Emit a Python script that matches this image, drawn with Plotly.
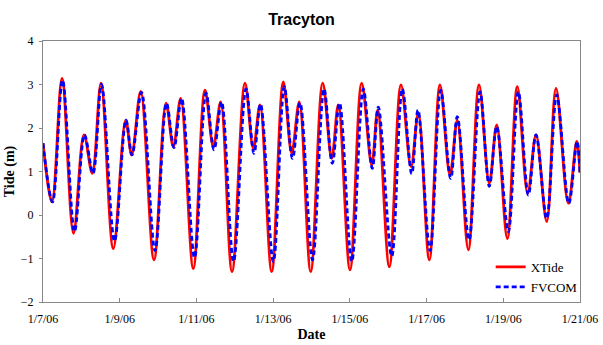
import plotly.graph_objects as go

# XTide extrema (time, water level in m)
xtide_time = [
    "2006-01-07 00:00", "2006-01-07 05:38", "2006-01-07 11:53", "2006-01-07 19:05",
    "2006-01-08 01:39", "2006-01-08 06:51", "2006-01-08 12:17", "2006-01-08 19:59",
    "2006-01-09 03:45", "2006-01-09 07:30", "2006-01-09 13:08", "2006-01-09 21:27",
    "2006-01-10 04:58", "2006-01-10 09:32", "2006-01-10 14:10", "2006-01-10 22:02",
    "2006-01-11 05:22", "2006-01-11 10:34", "2006-01-11 15:11", "2006-01-11 22:16",
    "2006-01-12 06:23", "2006-01-12 11:35", "2006-01-12 15:47", "2006-01-12 23:06",
    "2006-01-13 06:22", "2006-01-13 11:37", "2006-01-13 16:22", "2006-01-13 23:30",
    "2006-01-14 07:01", "2006-01-14 12:38", "2006-01-14 16:46", "2006-01-15 00:05",
    "2006-01-15 07:25", "2006-01-15 13:40", "2006-01-15 17:25", "2006-01-16 00:41",
    "2006-01-16 08:00", "2006-01-16 14:16", "2006-01-16 18:50", "2006-01-17 01:43",
    "2006-01-17 08:24", "2006-01-17 14:40", "2006-01-17 19:14", "2006-01-18 02:07",
    "2006-01-18 08:49", "2006-01-18 15:15", "2006-01-18 19:53", "2006-01-19 02:31",
    "2006-01-19 08:46", "2006-01-19 15:17", "2006-01-19 20:28", "2006-01-20 03:10",
    "2006-01-20 08:59", "2006-01-20 16:41", "2006-01-20 21:56", "2006-01-21 00:00",
]
xtide_level = [
    1.65, 0.30, 3.14, -0.42,
    1.84, 0.96, 3.03, -0.77,
    2.18, 1.38, 2.84, -1.03,
    2.57, 1.57, 2.68, -1.23,
    2.87, 1.57, 2.60, -1.30,
    3.03, 1.53, 2.53, -1.30,
    3.06, 1.42, 2.60, -1.30,
    3.03, 1.30, 2.53, -1.26,
    3.03, 1.15, 2.41, -1.19,
    2.99, 1.11, 2.34, -1.03,
    2.99, 0.92, 2.18, -0.80,
    2.99, 0.73, 2.07, -0.54,
    2.95, 0.50, 1.84, -0.15,
    2.91, 0.27, 1.69, 0.97,
]

# FVCOM extrema (time, water level in m)
fvcom_time = [
    "2006-01-07 00:00", "2006-01-07 05:56", "2006-01-07 12:12", "2006-01-07 19:43",
    "2006-01-08 01:58", "2006-01-08 07:17", "2006-01-08 12:36", "2006-01-08 20:44",
    "2006-01-09 03:56", "2006-01-09 07:41", "2006-01-09 13:38", "2006-01-09 22:05",
    "2006-01-10 05:16", "2006-01-10 09:58", "2006-01-10 14:40", "2006-01-10 22:47",
    "2006-01-11 05:59", "2006-01-11 11:00", "2006-01-11 15:41", "2006-01-11 23:12",
    "2006-01-12 07:01", "2006-01-12 12:01", "2006-01-12 16:05", "2006-01-13 00:06",
    "2006-01-13 06:59", "2006-01-13 12:07", "2006-01-13 16:48", "2006-01-14 00:38",
    "2006-01-14 07:49", "2006-01-14 13:01", "2006-01-14 17:31", "2006-01-15 01:09",
    "2006-01-15 08:25", "2006-01-15 14:02", "2006-01-15 17:48", "2006-01-16 02:11",
    "2006-01-16 08:49", "2006-01-16 14:42", "2006-01-16 18:38", "2006-01-17 02:09",
    "2006-01-17 08:50", "2006-01-17 15:06", "2006-01-17 19:14", "2006-01-18 02:33",
    "2006-01-18 09:26", "2006-01-18 15:15", "2006-01-18 19:53", "2006-01-19 03:08",
    "2006-01-19 09:24", "2006-01-19 15:40", "2006-01-19 20:28", "2006-01-20 03:10",
    "2006-01-20 09:25", "2006-01-20 17:00", "2006-01-20 22:08", "2006-01-21 00:00",
]
fvcom_level = [
    1.65, 0.30, 3.10, -0.38,
    1.84, 0.96, 3.00, -0.60,
    2.18, 1.38, 2.82, -0.82,
    2.57, 1.55, 2.68, -0.98,
    2.80, 1.50, 2.60, -1.07,
    2.90, 1.42, 2.55, -1.07,
    2.95, 1.30, 2.58, -1.03,
    2.90, 1.19, 2.57, -1.07,
    2.90, 1.07, 2.48, -0.95,
    2.90, 0.95, 2.41, -0.82,
    2.87, 0.84, 2.26, -0.57,
    2.83, 0.66, 2.03, -0.38,
    2.83, 0.46, 1.84, -0.08,
    2.76, 0.27, 1.69, 0.97,
]

x_ticks = ["2006-01-07", "2006-01-09", "2006-01-11", "2006-01-13",
           "2006-01-15", "2006-01-17", "2006-01-19", "2006-01-21"]
x_tick_labels = ["1/7/06", "1/9/06", "1/11/06", "1/13/06",
                 "1/15/06", "1/17/06", "1/19/06", "1/21/06"]
y_ticks = [-2, -1, 0, 1, 2, 3, 4]

serif = "Liberation Serif, Times New Roman, serif"

fig = go.Figure()
fig.add_trace(go.Scatter(
    x=xtide_time, y=xtide_level, name="XTide", mode="lines",
    line=dict(color="#ff0000", width=2.8, shape="spline", smoothing=1.0),
))
fig.add_trace(go.Scatter(
    x=fvcom_time, y=fvcom_level, name="FVCOM", mode="lines",
    line=dict(color="#0000ff", width=2.8, dash="5px,3px", shape="spline", smoothing=1.0),
))

fig.update_layout(
    width=603, height=345,
    margin=dict(l=43, r=23, t=41, b=43),
    paper_bgcolor="white", plot_bgcolor="white",
    showlegend=True,
    legend=dict(
        x=1.005, y=0.0, xanchor="right", yanchor="bottom",
        bgcolor="rgba(255,255,255,0)",
        font=dict(family=serif, size=13, color="black"),
        itemwidth=30, tracegroupgap=0,
    ),
    title=dict(
        text="<b>Tracyton</b>", x=0.5, xanchor="center",
        yref="container", y=1 - 19 / 345, yanchor="middle",
        font=dict(family="Liberation Sans, Arial, sans-serif", size=16, color="black"),
    ),
    xaxis=dict(
        range=["2006-01-07", "2006-01-21"], automargin=False,
        tickmode="array", tickvals=x_ticks, ticktext=x_tick_labels,
        ticks="inside", ticklen=4, tickcolor="#888", ticklabelstandoff=6,
        showline=True, linecolor="#888", linewidth=1, mirror=True,
        showgrid=False, zeroline=False,
        tickfont=dict(family=serif, size=12, color="black"),
        title=dict(text="<b>Date</b>", font=dict(family=serif, size=14, color="black"), standoff=3),
    ),
    yaxis=dict(
        range=[-2, 4], tickmode="array", tickvals=y_ticks, automargin=False,
        ticks="outside", ticklen=3, tickcolor="#888", ticklabelstandoff=3,
        showline=True, linecolor="#888", linewidth=1, mirror=True,
        showgrid=False, zeroline=False,
        tickfont=dict(family=serif, size=12, color="black"),
        title=dict(text="<b>Tide (m)</b>", font=dict(family=serif, size=14, color="black"), standoff=2),
    ),
)

fig.write_html(
    "out.html",
    config={"displayModeBar": False},
    post_script="document.body.style.margin='0';document.body.style.overflow='hidden';",
)
